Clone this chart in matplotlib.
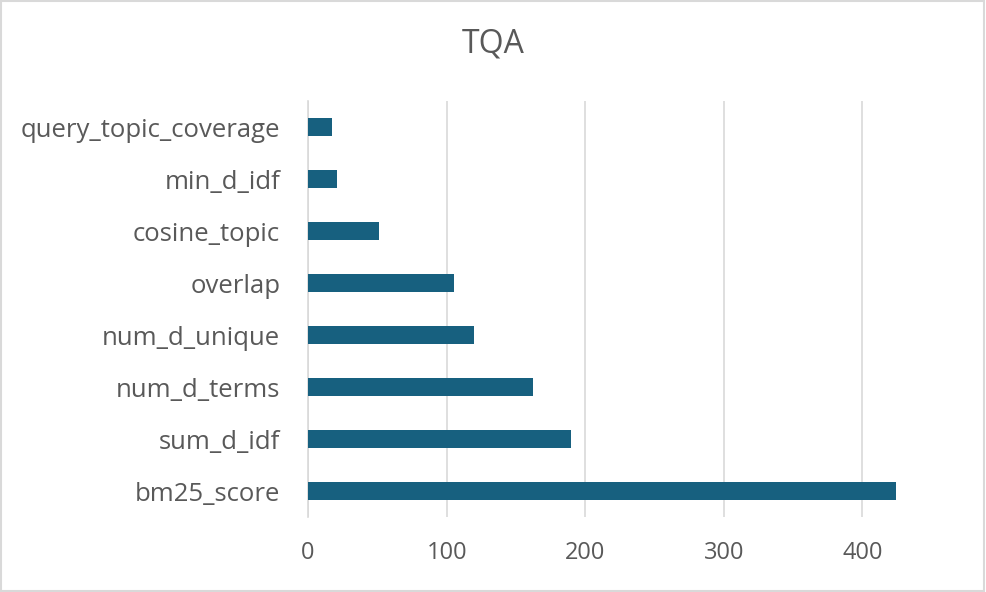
import matplotlib.pyplot as plt
from matplotlib.patches import Rectangle

# feature importances for TQA
features = ['bm25_score', 'sum_d_idf', 'num_d_terms', 'num_d_unique',
            'overlap', 'cosine_topic', 'min_d_idf', 'query_topic_coverage']
scores = [424, 190, 162, 120, 105, 51, 21, 17]
xticks = [0, 100, 200, 300, 400]

bar_color = '#17607F'
text_color = '#595959'
grid_color = '#D9D9D9'

plt.rcParams['font.family'] = ['Open Sans', 'DejaVu Sans']

fig = plt.figure(figsize=(9.86, 5.92), dpi=100, facecolor='w')
ax = fig.add_axes([0.3124, 0.1267, 0.6326, 0.7023])

y = range(len(features))
ax.barh(y, scores, height=0.35, color=bar_color, zorder=3)

ax.set_xlim(0, 450)
ax.set_ylim(-0.5, len(features) - 0.5)
ax.set_xticks(xticks)
ax.set_yticks(list(y))
ax.set_yticklabels(features)
ax.tick_params(axis='both', length=0, colors=text_color)
ax.tick_params(axis='y', pad=20, labelsize=18.5)
ax.tick_params(axis='x', pad=17, labelsize=17)
ax.grid(axis='x', color=grid_color, lw=1.2, zorder=0)
for spine in ('top', 'right', 'bottom'):
    ax.spines[spine].set_visible(False)
ax.spines['left'].set_color(grid_color)
ax.spines['left'].set_linewidth(1.2)

fig.text(0.5, 0.925, 'TQA', ha='center', va='center', fontsize=23,
         color=text_color)

# thin border round the chart
fig.patches.append(Rectangle((0.001, 0.002), 0.997, 0.996, transform=fig.transFigure,
                             fill=False, edgecolor=grid_color, lw=1.5))

fig.savefig('out.png', dpi=100)
